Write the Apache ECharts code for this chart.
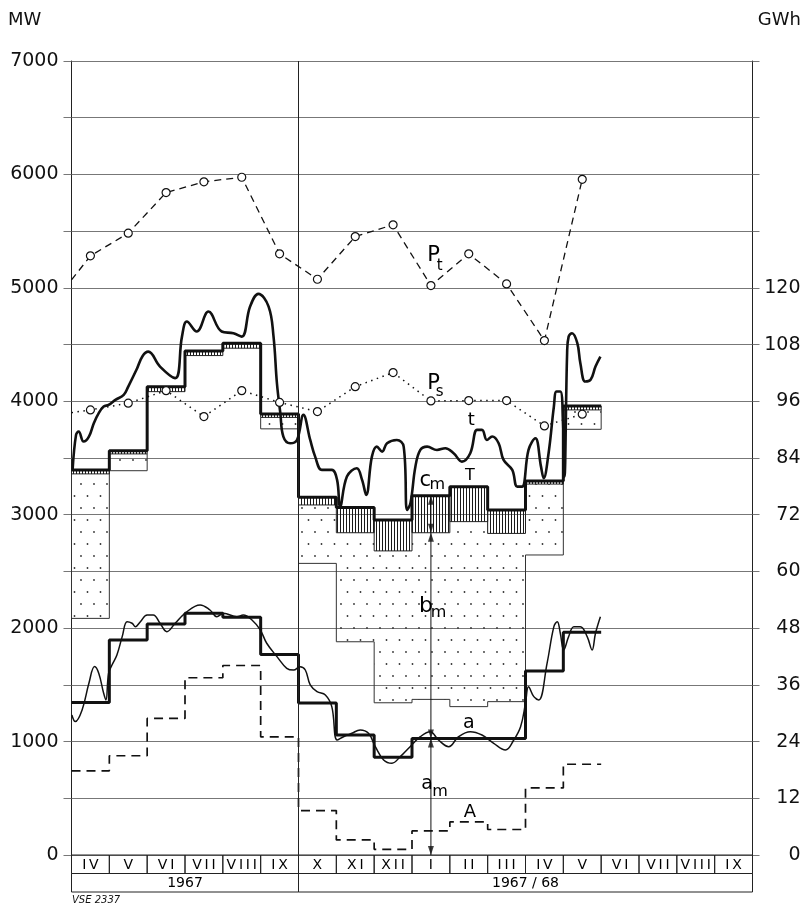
<!DOCTYPE html>
<html>
<head>
<meta charset="utf-8">
<script src="https://cdn.jsdelivr.net/npm/echarts@6/dist/echarts.min.js"></script>
<style>
html,body{margin:0;padding:0;background:#fff;}
#c{width:806px;height:907px;}
</style>
</head>
<body>
<div id="c"></div>
<script>
// ---------------- DATA ----------------
const months = ['IV','V','VI','VII','VIII','IX','X','XI','XII','I','II','III','IV','V','VI','VII','VIII','IX'];
const yearLabels = ['1967', '1967 / 68'];
const yearSpans = [[0, 6], [6, 18]];

// monthly values (MW), months IV 1967 .. V 1968
const topT        = [3395, 3563, 4129, 4444, 4511, 3889, 3153, 3064, 2954, 3168, 3247, 3042, 3298, 3959];
const hatchBottom = [3360, 3536, 4085, 4403, 4468, 3858, 3086, 2841, 2681, 2841, 2939, 2835, 3270, 3924];
const dotBottom   = [2086, 3388, null, null, null, 3757, 2571, 1880, 1342, 1372, 1308, 1352, 2645, 3753];
const aMean       = [1345, 1896, 2037, 2131, 2096, 1768, 1340, 1058, 862, 1028, 1028, 1028, 1623, 1964];
// A in GWh (right axis)
const energyA     = [17.8, 21.0, 28.9, 37.5, 40.1, 25.0, 9.4, 3.2, 1.2, 5.1, 7.0, 5.4, 14.2, 19.2];

// P_t and P_s (MW) at mid-month, with value at start of chart
const PtStart = 5070;
const Pt = [5282, 5482, 5840, 5935, 5975, 5300, 5076, 5452, 5556, 5020, 5300, 5035, 4535, 5957];
const PsStart = 3900;
const Ps = [3924, 3983, 4094, 3865, 4094, 3990, 3909, 4129, 4253, 4003, 4006, 4006, 3783, 3886];

// daily curve t (thick) [month position, MW]
const tCurve = [[0.03,3400],[0.12,3704],[0.19,3733],[0.32,3645],[0.46,3689],[0.59,3807],[0.72,3895],[0.85,3953],[0.98,3968],[1.16,4012],[1.38,4056],[1.50,4130],[1.72,4280],[1.88,4400],[2.03,4438],[2.34,4306],[2.74,4204],[2.92,4570],[3.05,4703],[3.31,4615],[3.62,4791],[3.97,4615],[4.28,4600],[4.50,4570],[4.72,4835],[4.94,4947],[5.21,4835],[5.34,4570],[5.43,4159],[5.52,3895],[5.60,3689],[5.78,3630],[5.96,3659],[6.13,3880],[6.31,3659],[6.44,3512],[6.62,3395],[6.88,3395],[7.02,3307],[7.10,3071],[7.28,3336],[7.54,3410],[7.68,3307],[7.79,3175],[7.94,3512],[8.07,3600],[8.21,3556],[8.34,3630],[8.60,3659],[8.78,3600],[8.87,3042],[8.96,3104],[9.09,3424],[9.22,3571],[9.40,3600],[9.66,3571],[9.88,3586],[10.10,3542],[10.32,3468],[10.54,3542],[10.72,3748],[10.85,3748],[10.98,3659],[11.12,3689],[11.29,3630],[11.42,3483],[11.65,3395],[11.78,3248],[11.91,3248],[12.08,3571],[12.26,3674],[12.41,3424],[12.48,3322],[12.61,3542],[12.75,3953],[12.82,4086],[12.92,4086],[12.99,3836],[13.03,3336],[13.10,4424],[13.14,4570],[13.23,4600],[13.37,4512],[13.45,4336],[13.58,4174],[13.72,4189],[13.85,4306],[13.98,4394]];

// daily curve a (thin) [month position, MW]
const aCurve = [[0.01,1235],[0.10,1176],[0.28,1279],[0.46,1514],[0.61,1661],[0.72,1602],[0.85,1426],[0.91,1367],[0.98,1602],[1.07,1675],[1.20,1764],[1.34,1925],[1.47,2057],[1.60,2043],[1.69,2013],[1.82,2057],[2.00,2116],[2.16,2116],[2.34,2043],[2.52,1969],[2.74,2043],[3.00,2131],[3.40,2205],[3.66,2160],[3.84,2101],[4.02,2131],[4.37,2101],[4.54,2116],[4.77,2072],[4.99,1984],[5.16,1867],[5.43,1749],[5.69,1646],[5.87,1631],[6.04,1660],[6.18,1631],[6.31,1499],[6.49,1440],[6.71,1411],[6.88,1308],[7.02,1014],[7.19,1043],[7.41,1073],[7.63,1102],[7.85,1073],[8.03,955],[8.25,838],[8.47,809],[8.69,867],[8.95,955],[9.22,1043],[9.48,1087],[9.70,1014],[9.97,955],[10.23,1043],[10.54,1087],[10.85,1058],[11.16,985],[11.47,926],[11.69,1014],[11.87,1131],[12.00,1338],[12.08,1484],[12.22,1396],[12.35,1367],[12.57,1690],[12.75,2013],[12.84,2057],[12.92,1955],[13.01,1808],[13.14,1925],[13.28,2013],[13.45,2013],[13.63,1925],[13.76,1808],[13.85,1955],[13.98,2101]];

// annotation labels [month position, MW, text, font size]
const annotations = [
  [9.57, 5284, 'P', 21], [9.73, 5188, 't', 15],
  [9.57, 4160, 'P', 21], [9.73, 4085, 's', 15],
  [10.57, 3836, 't', 18],
  [9.35, 3300, 'c', 21], [9.67, 3263, 'm', 16],
  [10.53, 3344, 'T', 16],
  [9.37, 2190, 'b', 22], [9.70, 2138, 'm', 16],
  [10.50, 1161, 'a', 19],
  [9.40, 626, 'a', 19], [9.74, 558, 'm', 16],
  [10.53, 373, 'A', 18]
];
const arrowMonth = 9; // month I 1968

// ---------------- PATTERNS ----------------
function makeHatch() {
  const c = document.createElement('canvas'); c.width = 3; c.height = 4;
  const g = c.getContext('2d');
  g.fillStyle = '#1a1a1a'; g.fillRect(1, 0, 1, 4);
  return c;
}
function makeDots() {
  const c = document.createElement('canvas'); c.width = 13; c.height = 24;
  const g = c.getContext('2d');
  g.fillStyle = '#333';
  g.beginPath(); g.arc(3, 4, 0.9, 0, Math.PI * 2); g.fill();
  g.beginPath(); g.arc(9.5, 16, 0.9, 0, Math.PI * 2); g.fill();
  return c;
}
const hatchPattern = { image: makeHatch(), repeat: 'repeat' };
const dotPattern = { image: makeDots(), repeat: 'repeat' };

const FONT = 'DejaVu Sans';
const INK = '#111';

function stepData(arr) {
  return arr.map((v, i) => [i, v]).concat([[arr.length, arr[arr.length - 1]]]);
}
function pointData(start, arr) {
  return [{ value: [0, start], symbol: 'none' }].concat(arr.map((v, i) => [i + 0.5, v]));
}

const hatchData = topT.map((v, i) => [i, v, hatchBottom[i]]);
const dotData = dotBottom.map((b, i) => b == null ? null : [i, hatchBottom[i], b]).filter(Boolean);

function hatchItem(params, api) {
  const i = api.value(0), top = api.value(1), bot = api.value(2);
  const p0 = api.coord([i, top]), p1 = api.coord([i + 1, bot]);
  return {
    type: 'rect',
    shape: { x: p0[0], y: p0[1], width: p1[0] - p0[0], height: p1[1] - p0[1] },
    style: { fill: hatchPattern, stroke: '#222', lineWidth: 1 }
  };
}
function dotItem(params, api) {
  const i = api.value(0), top = api.value(1), bot = api.value(2);
  const c = (x, y) => api.coord([x, y]);
  const p0 = c(i, top), p1 = c(i + 1, bot);
  const line = (a, b) => ({ type: 'line', shape: { x1: a[0], y1: a[1], x2: b[0], y2: b[1] }, style: { stroke: '#333', lineWidth: 1 } });
  const ch = [{ type: 'rect', shape: { x: p0[0], y: p0[1], width: p1[0] - p0[0], height: p1[1] - p0[1] }, style: { fill: dotPattern } }];
  ch.push(line(c(i, bot), c(i + 1, bot)));
  const prev = i > 0 ? dotBottom[i - 1] : null;
  ch.push(prev == null ? line(c(i, top), c(i, bot)) : line(c(i, prev), c(i, bot)));
  const next = i + 1 < dotBottom.length ? dotBottom[i + 1] : null;
  if (next == null) ch.push(line(c(i + 1, top), c(i + 1, bot)));
  return { type: 'group', children: ch };
}
function labelItem(params, api) {
  const a = annotations[params.dataIndex];
  const p = api.coord([api.value(0), api.value(1)]);
  return { type: 'text', x: p[0], y: p[1],
    style: { text: a[2], align: 'center', verticalAlign: 'middle',
             font: a[3] + 'px "' + FONT + '"', fill: '#000' } };
}
function cellItem(texts, row, size) {
  return function (params, api) {
    const x0 = api.value(0), x1 = api.value(1);
    const p0 = api.coord([x0, row]), p1 = api.coord([x1, row + 1]);
    return {
      type: 'group',
      children: [
        { type: 'rect', shape: { x: p0[0], y: p0[1], width: p1[0] - p0[0], height: p1[1] - p0[1] },
          style: { fill: 'none', stroke: '#222', lineWidth: 1 } },
        { type: 'text', x: (p0[0] + p1[0]) / 2, y: (p0[1] + p1[1]) / 2 + 1,
          style: { text: texts[params.dataIndex], align: 'center', verticalAlign: 'middle',
                   font: size + 'px "' + FONT + '"', fill: '#000' } }
      ]
    };
  };
}
const spaced = months.map(m => m.split('').join('\u2009'));

// arrows at month I
const ax = arrowMonth + 0.5;
const arrowLine = [[ax, 0], [ax, topT[arrowMonth]]];
const up = (v) => ({ value: [ax, v], symbolRotate: 0, symbolOffset: [0, '50%'] });
const down = (v) => ({ value: [ax, v], symbolRotate: 180, symbolOffset: [0, '-50%'] });
const arrowHeads = [up(topT[arrowMonth]), down(hatchBottom[arrowMonth]), up(hatchBottom[arrowMonth]),
                    down(aMean[arrowMonth]), up(aMean[arrowMonth]), down(0)];

const chart = echarts.init(document.getElementById('c'), null, { renderer: 'canvas' });
chart.setOption({
  animation: false,
  backgroundColor: '#fff',
  graphic: [
    { type: 'text', left: 8, top: 11, style: { text: 'MW', font: '18px "' + FONT + '"', fill: INK } },
    { type: 'text', right: 5, top: 11, style: { text: 'GWh', font: '18px "' + FONT + '"', fill: INK } },
    { type: 'text', left: 72, top: 895, style: { text: 'VSE 2337', font: 'italic 10px "' + FONT + '"', fill: INK } }
  ],
  grid: [
    { left: 71.5, right: 53.5, top: 61, bottom: 52 },
    { left: 71.5, right: 53.5, top: 855, height: 37 }
  ],
  xAxis: [
    { type: 'value', gridIndex: 0, min: 0, max: 18, show: false },
    { type: 'value', gridIndex: 1, min: 0, max: 18, show: false }
  ],
  yAxis: [
    { type: 'value', gridIndex: 0, min: 0, max: 7000, interval: 500, position: 'left',
      axisLine: { show: true, lineStyle: { color: '#222', width: 1 } },
      axisTick: { show: true, length: 8, lineStyle: { color: '#777' } },
      splitLine: { show: true, lineStyle: { color: '#777', width: 1 } },
      axisLabel: { margin: 13, color: INK, fontFamily: FONT, fontSize: 19,
        formatter: v => (v % 1000 === 0 ? String(v) : '') } },
    { type: 'value', gridIndex: 0, min: 0, max: 168, interval: 12, position: 'right',
      axisLine: { show: true, lineStyle: { color: '#222', width: 1 } },
      axisTick: { show: true, length: 7, lineStyle: { color: '#777' } },
      splitLine: { show: false },
      axisLabel: { margin: 48, align: 'right', color: INK, fontFamily: FONT, fontSize: 19,
        formatter: v => (v <= 120 ? String(v) : '') } },
    { type: 'value', gridIndex: 1, min: 0, max: 2, inverse: true, show: false }
  ],
  series: [
    { type: 'custom', name: 'b', xAxisIndex: 0, yAxisIndex: 0, z: 1, renderItem: dotItem, data: dotData,
      encode: { x: 0, y: [1, 2] } },
    { type: 'custom', name: 'c', xAxisIndex: 0, yAxisIndex: 0, z: 2, renderItem: hatchItem, data: hatchData,
      encode: { x: 0, y: [1, 2] } },
    { type: 'line', name: 'T', step: 'end', data: stepData(topT), showSymbol: false, z: 4,
      lineStyle: { color: INK, width: 3 },
      markLine: { silent: true, symbol: 'none', label: { show: false },
        lineStyle: { color: '#222', width: 1, type: 'solid' },
        data: [{ xAxis: yearSpans[1][0] }] } },
    { type: 'line', name: 'am', step: 'end', data: stepData(aMean), showSymbol: false, z: 4,
      lineStyle: { color: INK, width: 3 } },
    { type: 'line', name: 'A', step: 'end', yAxisIndex: 1, data: stepData(energyA), showSymbol: false, z: 4,
      lineStyle: { color: INK, width: 1.7, type: [9, 6] } },
    { type: 'line', name: 'a', data: aCurve, smooth: 0.4, showSymbol: false, z: 5,
      lineStyle: { color: INK, width: 1.5 } },
    { type: 'line', name: 't', data: tCurve, smooth: 0.4, showSymbol: false, z: 5,
      lineStyle: { color: INK, width: 2.6 } },
    { type: 'line', name: 'Pt', data: pointData(PtStart, Pt), z: 6, symbol: 'circle', symbolSize: 8,
      itemStyle: { color: '#fff', borderColor: INK, borderWidth: 1.2 },
      lineStyle: { color: INK, width: 1.3, type: [7, 5] } },
    { type: 'line', name: 'Ps', data: pointData(PsStart, Ps), z: 6, symbol: 'circle', symbolSize: 8,
      itemStyle: { color: '#fff', borderColor: INK, borderWidth: 1.2 },
      lineStyle: { color: INK, width: 1.5, type: [1.5, 4.5] } },
    { type: 'line', name: 'arrow', data: arrowLine, showSymbol: false, z: 6,
      lineStyle: { color: INK, width: 1 } },
    { type: 'scatter', name: 'heads', data: arrowHeads, symbol: 'triangle', symbolSize: [6, 9], z: 7,
      itemStyle: { color: INK } },
    { type: 'custom', name: 'labels', z: 8, renderItem: labelItem,
      data: annotations.map(a => [a[0], a[1]]) },
    { type: 'custom', name: 'months', xAxisIndex: 1, yAxisIndex: 2, renderItem: cellItem(spaced, 0, 14),
      data: months.map((m, i) => [i, i + 1]) },
    { type: 'custom', name: 'years', xAxisIndex: 1, yAxisIndex: 2, renderItem: cellItem(yearLabels, 1, 14),
      data: yearSpans }
  ]
});
</script>
</body>
</html>
